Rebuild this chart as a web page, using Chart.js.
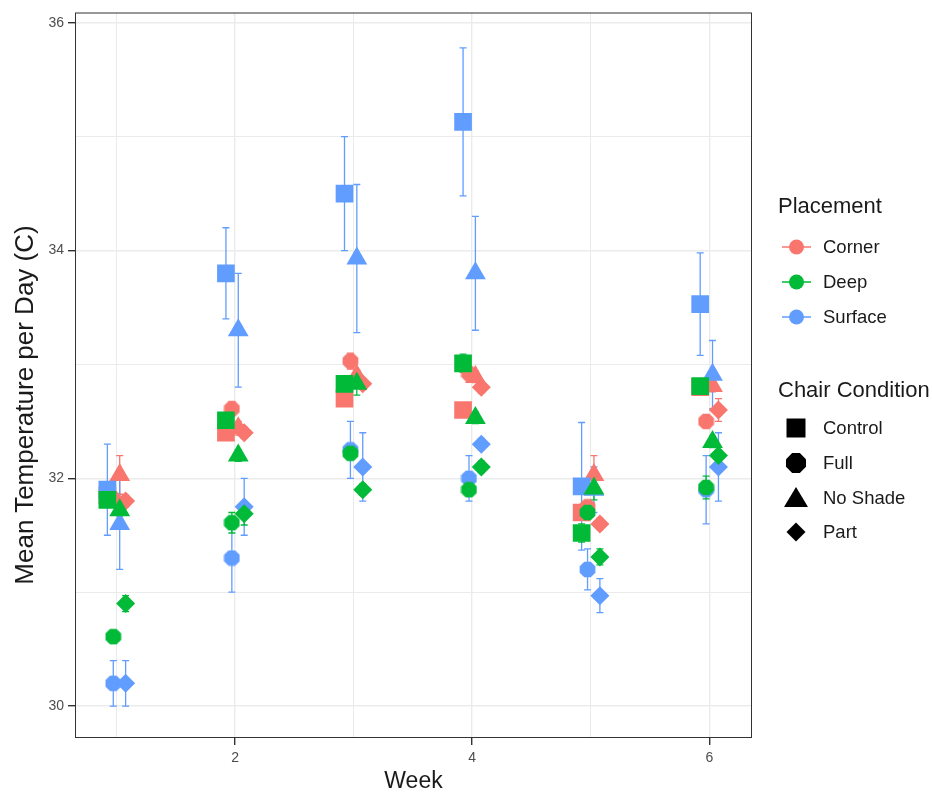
<!DOCTYPE html>
<html>
<head>
<meta charset="utf-8">
<script src="https://cdn.jsdelivr.net/npm/chart.js@4.4.0/dist/chart.umd.min.js"></script>
<style>
  body { margin: 0; background: #fff; font-family: "Liberation Sans", Arial, sans-serif; }
  #wrap { position: relative; width: 932px; height: 795px; }
  #legend { position: absolute; left: 0; top: 0; width: 932px; height: 795px; pointer-events: none; color: #1a1a1a; }
  .ltitle { position: absolute; left: 778px; font-size: 22px; line-height: 26px; height: 26px; }
  .lrow { position: absolute; left: 778px; height: 26px; display: flex; align-items: center; font-size: 18.5px; }
  .lrow svg { width: 38px; height: 26px; }
  .lrow span { margin-left: 7px; }
  #ytitle { position: absolute; left: 24px; top: 405px; transform: translate(-50%, -50%) rotate(-90deg);
            white-space: nowrap; font-size: 26px; line-height: 30px; color: #1a1a1a; }
</style>
</head>
<body>
<div id="wrap">
  <canvas id="myChart" width="932" height="795"></canvas>
  <div id="ytitle">Mean Temperature per Day (C)</div>
  <div id="legend"></div>
</div>
<script>
// weeks and axis ticks
const weeks = [1, 2, 3, 4, 5, 6];
const xTicks = [1, 2, 3, 4, 5, 6];
const xLabels = [2, 4, 6];
const yTicks = [30, 31, 32, 33, 34, 35, 36];
const yLabels = [30, 32, 34, 36];

const placements = ["Corner", "Deep", "Surface"];
const conditions = ["Control", "Full", "No Shade", "Part"];

// Corner
const cornerControl = [31.85, 32.40, 32.70, 32.60, 31.70, 32.80];
const cornerControlErr = [0.05, 0.05, 0.05, 0.05, 0.05, 0.05];
const cornerFull = [31.82, 32.61, 33.03, 32.92, 31.75, 32.50];
const cornerFullErr = [0.05, 0.06, 0.07, 0.05, 0.05, 0.05];
const cornerNoShade = [32.03, 32.44, 32.90, 32.89, 32.03, 32.81];
const cornerNoShadeErr = [0.17, 0.06, 0.05, 0.05, 0.17, 0.05];
const cornerPart = [31.80, 32.40, 32.83, 32.80, 31.60, 32.60];
const cornerPartErr = [0.05, 0.05, 0.05, 0.05, 0.05, 0.10];

// Deep
const deepControl = [31.81, 32.51, 32.83, 33.01, 31.52, 32.81];
const deepControlErr = [0.05, 0.05, 0.05, 0.08, 0.08, 0.05];
const deepFull = [30.61, 31.61, 32.22, 31.90, 31.70, 31.92];
const deepFullErr = [0.05, 0.09, 0.05, 0.05, 0.05, 0.10];
const deepNoShade = [31.72, 32.20, 32.83, 32.53, 31.91, 32.32];
const deepNoShadeErr = [0.05, 0.05, 0.10, 0.05, 0.10, 0.05];
const deepPart = [30.90, 31.69, 31.90, 32.10, 31.31, 32.20];
const deepPartErr = [0.07, 0.10, 0.05, 0.05, 0.07, 0.05];

// Surface
const surfaceControl = [31.90, 33.80, 34.50, 35.13, 31.93, 33.53];
const surfaceControlErr = [0.40, 0.40, 0.50, 0.65, 0.56, 0.45];
const surfaceFull = [30.20, 31.30, 32.25, 32.00, 31.20, 31.90];
const surfaceFullErr = [0.20, 0.30, 0.25, 0.20, 0.18, 0.30];
const surfaceNoShade = [31.60, 33.30, 33.93, 33.80, 31.90, 32.91];
const surfaceNoShadeErr = [0.40, 0.50, 0.65, 0.50, 0.20, 0.30];
const surfacePart = [30.20, 31.75, 32.10, 32.30, 30.97, 32.10];
const surfacePartErr = [0.20, 0.25, 0.30, 0.05, 0.15, 0.30];

const means = {
  Corner: [cornerControl, cornerFull, cornerNoShade, cornerPart],
  Deep: [deepControl, deepFull, deepNoShade, deepPart],
  Surface: [surfaceControl, surfaceFull, surfaceNoShade, surfacePart],
};
const errs = {
  Corner: [cornerControlErr, cornerFullErr, cornerNoShadeErr, cornerPartErr],
  Deep: [deepControlErr, deepFullErr, deepNoShadeErr, deepPartErr],
  Surface: [surfaceControlErr, surfaceFullErr, surfaceNoShadeErr, surfacePartErr],
};

let colors = { Corner: "#F8766D", Deep: "#00BA38", Surface: "#619CFF" };
let dodge = [-0.077, -0.027, 0.027, 0.077];

// octagon marker (ggplot's filled circle looks like this)
function octagon(color, size) {
  let c = document.createElement("canvas");
  c.width = size;
  c.height = size;
  let ctx = c.getContext("2d");
  let r = size / 2;
  ctx.fillStyle = color;
  ctx.beginPath();
  for (let i = 0; i < 8; i++) {
    let a = Math.PI / 8 + (i * Math.PI) / 4;
    ctx.lineTo(r + r * Math.cos(a), r + r * Math.sin(a));
  }
  ctx.closePath();
  ctx.fill();
  return c;
}

function pointStyleFor(cond, color) {
  if (cond == "Control") return { style: "rect", radius: 12.5 };
  if (cond == "Full") return { style: octagon(color, 17), radius: 8.5 };
  if (cond == "No Shade") return { style: "triangle", radius: 12 };
  return { style: "rectRot", radius: 9.5 };
}

// draw order: Corner at the bottom, then Surface, Deep on top
let drawOrder = ["Corner", "Surface", "Deep"];
let datasets = [];
drawOrder.forEach((pl) => {
  conditions.forEach((cond, ci) => {
    let ps = pointStyleFor(cond, colors[pl]);
    datasets.push({
      label: pl + " " + cond,
      placement: pl,
      errors: errs[pl][ci],
      data: weeks.map((w, i) => ({ x: w + dodge[ci], y: means[pl][ci][i] })),
      pointStyle: ps.style,
      pointRadius: ps.radius,
      pointHoverRadius: ps.radius,
      backgroundColor: colors[pl],
      borderColor: colors[pl],
      borderWidth: 0,
      showLine: false,
    });
  });
});
datasets.forEach((d, i) => (d.order = datasets.length - i));

const errorBars = {
  id: "errorBars",
  beforeDatasetsDraw(chart) {
    let ctx = chart.ctx;
    let y = chart.scales.y;
    ctx.save();
    ctx.lineWidth = 1.3;
    chart.data.datasets.forEach((ds, di) => {
      let meta = chart.getDatasetMeta(di);
      ctx.strokeStyle = ds.borderColor;
      meta.data.forEach((pt, i) => {
        let v = ds.data[i].y;
        let e = ds.errors[i];
        let top = y.getPixelForValue(v + e);
        let bot = y.getPixelForValue(v - e);
        ctx.beginPath();
        ctx.moveTo(pt.x, top);
        ctx.lineTo(pt.x, bot);
        ctx.moveTo(pt.x - 3.5, top);
        ctx.lineTo(pt.x + 3.5, top);
        ctx.moveTo(pt.x - 3.5, bot);
        ctx.lineTo(pt.x + 3.5, bot);
        ctx.stroke();
      });
    });
    ctx.restore();
  },
};

const panelBorder = {
  id: "panelBorder",
  afterDraw(chart) {
    let a = chart.chartArea;
    let ctx = chart.ctx;
    ctx.save();
    ctx.strokeStyle = "#333333";
    ctx.lineWidth = 1;
    ctx.strokeRect(a.left + 0.5, a.top + 0.5, a.right - a.left - 1, a.bottom - a.top - 1);
    ctx.restore();
  },
};

let gridColor = "#ebebeb";
let tickFont = { family: "'Liberation Sans', Arial, sans-serif", size: 14 };

const config = {
  type: "scatter",
  data: { datasets },
  options: {
    responsive: false,
    animation: false,
    devicePixelRatio: 1,
    layout: { padding: { left: 0, right: 180, top: 12, bottom: 0 } },
    plugins: { legend: { display: false }, tooltip: { enabled: false } },
    scales: {
      x: {
        type: "linear",
        min: 0.65,
        max: 6.36,
        afterBuildTicks: (axis) => (axis.ticks = xTicks.map((v) => ({ value: v }))),
        afterFit: (axis) => (axis.height = 57),
        ticks: {
          callback: (v) => (xLabels.includes(v) ? v : ""),
          font: tickFont,
          color: "#4d4d4d",
          padding: 5,
          maxRotation: 0,
          autoSkip: false,
        },
        grid: {
          color: gridColor,
          lineWidth: (c) => (c.tick && xLabels.includes(c.tick.value) ? 1.4 : 1),
          tickLength: 7,
          tickColor: (c) => (c.tick && xLabels.includes(c.tick.value) ? "#333333" : "rgba(0,0,0,0)"),
        },
        border: { display: false },
        title: {
          display: true,
          text: "Week",
          font: { family: "'Liberation Sans', Arial, sans-serif", size: 23 },
          color: "#1a1a1a",
          padding: { top: 0, bottom: 0 },
        },
      },
      y: {
        min: 29.72,
        max: 36.09,
        afterBuildTicks: (axis) => (axis.ticks = yTicks.map((v) => ({ value: v }))),
        afterFit: (axis) => (axis.width = 75),
        ticks: {
          callback: (v) => (yLabels.includes(v) ? v : ""),
          font: tickFont,
          color: "#4d4d4d",
          padding: 4,
        },
        grid: {
          color: gridColor,
          lineWidth: (c) => (c.tick && yLabels.includes(c.tick.value) ? 1.4 : 1),
          tickLength: 7,
          tickColor: (c) => (c.tick && yLabels.includes(c.tick.value) ? "#333333" : "rgba(0,0,0,0)"),
        },
        border: { display: false },
      },
    },
  },
  plugins: [errorBars, panelBorder],
};

new Chart(document.getElementById("myChart"), config);

// legend (two groups, like ggplot)
function iconSvg(kind, color) {
  let s = `<svg viewBox="0 0 38 26">`;
  if (kind == "placement") {
    s += `<line x1="4" y1="13" x2="33" y2="13" stroke="${color}" stroke-width="1.5"/>`;
    s += `<circle cx="18.5" cy="13" r="7.5" fill="${color}"/>`;
  } else if (kind == "Control") {
    s += `<rect x="8.5" y="3.5" width="19" height="19" fill="#000"/>`;
  } else if (kind == "Full") {
    s += `<polygon points="14.2,3 21.8,3 28,9.2 28,16.8 21.8,23 14.2,23 8,16.8 8,9.2" fill="#000"/>`;
  } else if (kind == "No Shade") {
    s += `<polygon points="18,2 30,22 6,22" fill="#000"/>`;
  } else {
    s += `<polygon points="18,3.5 27.5,13 18,22.5 8.5,13" fill="#000"/>`;
  }
  return s + `</svg>`;
}

let html = `<div class="ltitle" style="top:193px">Placement</div>`;
let py = [234, 269, 304];
placements.forEach((pl, i) => {
  html += `<div class="lrow" style="top:${py[i]}px">${iconSvg("placement", colors[pl])}<span>${pl}</span></div>`;
});
html += `<div class="ltitle" style="top:377px">Chair Condition</div>`;
let cy = [415, 450, 485, 519];
conditions.forEach((c, i) => {
  html += `<div class="lrow" style="top:${cy[i]}px">${iconSvg(c)}<span>${c}</span></div>`;
});
document.getElementById("legend").innerHTML = html;
</script>
</body>
</html>
